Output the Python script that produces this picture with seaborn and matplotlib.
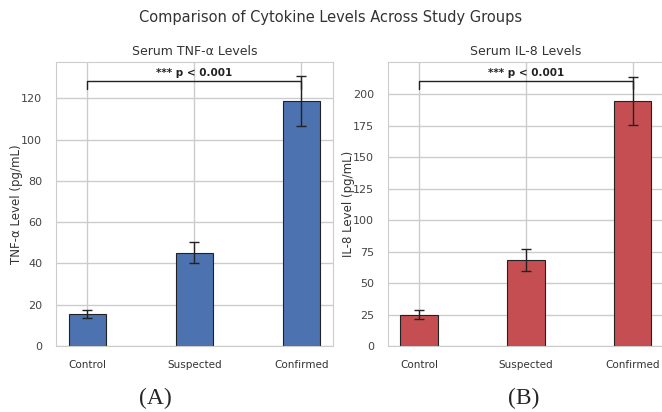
import numpy as np
import matplotlib
matplotlib.use("Agg")
import matplotlib.pyplot as plt
import seaborn as sns

groups = ["Control", "Suspected", "Confirmed"]
tnf_mean = [15.4, 45.3, 118.7]
tnf_err = [2.0, 5.3, 12.2]
il8_mean = [25.1, 68.4, 194.8]
il8_err = [3.6, 8.4, 18.7]

sns.set_theme(style="whitegrid")
plt.rcParams['font.family'] = ['DejaVu Sans']

fig = plt.figure(figsize=(6.62, 4.12), dpi=100)
ax1 = fig.add_axes([0.0846, 0.160, 0.418, 0.690])
ax2 = fig.add_axes([0.586, 0.160, 0.417, 0.690])

x = np.arange(len(groups))


def panel(ax, means, errs, color, title, ylabel):
    ax.bar(x, means, width=0.35, color=color, edgecolor="#222222", linewidth=0.8,
           yerr=errs, capsize=3.5, error_kw=dict(elinewidth=1, ecolor="#222222", capthick=1))
    ax.set_xticks(x)
    ax.set_xticklabels(groups, fontsize=7.5)
    ax.tick_params(axis="y", labelsize=8, pad=4, labelcolor="#444444")
    ax.tick_params(axis="x", pad=4, labelcolor="#333333")
    ax.set_title(title, fontsize=9, pad=5, color="#333333")
    ax.set_ylabel(ylabel, fontsize=8.5, color="#333333")
    ax.yaxis.set_label_coords(-0.12, 0.5)
    top = max(means)
    ax.set_ylim(0, top * 1.16)
    # significance bracket
    y = top * 1.08
    h = top * 0.03
    ax.plot([x[0], x[0], x[2], x[2]], [y - h, y, y, y - h], color="#222222", lw=1)
    ax.text((x[0] + x[2]) / 2, y + top * 0.012, "*** p < 0.001", ha="center", va="bottom",
            fontsize=7.5, fontweight="bold", color="#222222")
    for s in ax.spines.values():
        s.set_linewidth(0.8)


panel(ax1, tnf_mean, tnf_err, "#4C72B0", "Serum TNF-α Levels", "TNF-α Level (pg/mL)")
panel(ax2, il8_mean, il8_err, "#C44E52", "Serum IL-8 Levels", "IL-8 Level (pg/mL)")
ax2.set_yticks([0, 25, 50, 75, 100, 125, 150, 175, 200])

fig.suptitle("Comparison of Cytokine Levels Across Study Groups", fontsize=10.5, y=0.975,
             color="#333333")

fig.text(155 / 662, 1 - 398 / 412, "(A)", ha="center", va="center", fontsize=17,
         family=["Liberation Serif", "DejaVu Serif"])
fig.text(524 / 662, 1 - 398 / 412, "(B)", ha="center", va="center", fontsize=17,
         family=["Liberation Serif", "DejaVu Serif"])

fig.savefig("out.png", dpi=100)
